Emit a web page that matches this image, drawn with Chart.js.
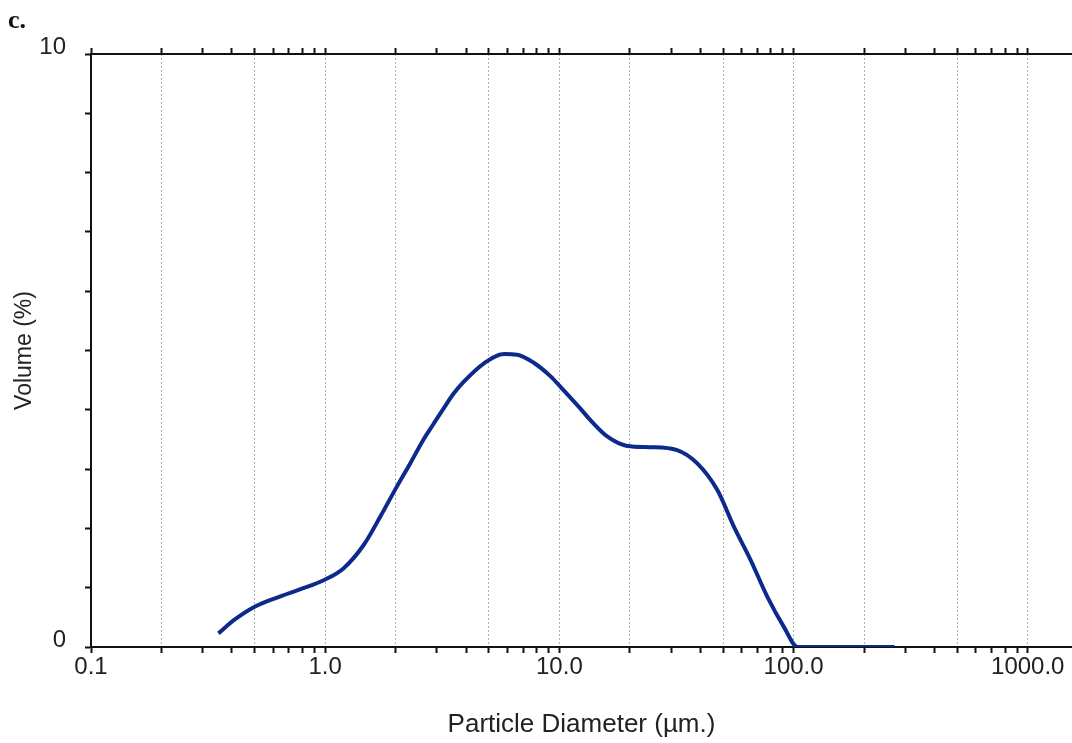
<!DOCTYPE html>
<html>
<head>
<meta charset="utf-8">
<script src="https://cdn.jsdelivr.net/npm/chart.js@4"></script>
<style>
  body { margin: 0; background: #fff; }
  #wrap { position: relative; width: 1072px; height: 743px; overflow: hidden; }
  #tag { position: absolute; left: 8px; top: 5px; font: bold 26px "Liberation Serif", serif; color: #111; }
</style>
</head>
<body>
<div id="wrap">
  <div id="tag">c.</div>
  <canvas id="psd" width="1072" height="743"></canvas>
</div>
<script>
// particle diameter (µm) and volume (%)
const diameters = [0.35, 0.41, 0.5, 0.64, 0.78, 0.99, 1.2, 1.46, 1.72, 2.02, 2.31, 2.63, 2.9, 3.2, 3.53, 3.9, 4.75,
  5.8, 6.6, 7.8, 9.2, 10.1, 12.3, 13.6, 16.0, 19.5, 24.5, 31.8, 38.7, 47.2, 55.6, 65.5, 77.2, 90.9, 104, 150, 270];
const volumes = [0.23, 0.46, 0.68, 0.85, 0.97, 1.13, 1.33, 1.72, 2.2, 2.7, 3.1, 3.5, 3.76, 4.02, 4.27, 4.47, 4.78,
  4.94, 4.93, 4.79, 4.56, 4.39, 4.02, 3.82, 3.55, 3.39, 3.37, 3.32, 3.10, 2.65, 2.03, 1.47, 0.85, 0.34, 0, 0, 0];
const yLabels = [0, 10];
const xMin = 0.1, xMax = 1545;

const tickFont = { family: 'Liberation Sans, Arial, sans-serif', size: 24 };

function isDecade(v) {
  const l = Math.log10(v);
  return Math.abs(l - Math.round(l)) < 1e-9;
}
function mantissa(v) {
  return Math.round(v / Math.pow(10, Math.floor(Math.log10(v) + 1e-9)));
}
function logTicks(scale) {
  const t = [];
  for (let e = -1; e <= 3; e++) {
    for (let m = 1; m <= 9; m++) {
      const v = +(m * Math.pow(10, e)).toPrecision(6);
      if (v >= xMin && v <= xMax) t.push({ value: v });
    }
  }
  scale.ticks = t;
}

new Chart(document.getElementById('psd'), {
  type: 'line',
  data: {
    datasets: [{
      data: diameters.map((d, i) => ({ x: d, y: volumes[i] })),
      borderColor: '#0b2a8c',
      borderWidth: 4,
      pointRadius: 0,
      cubicInterpolationMode: 'monotone',
      fill: false
    }]
  },
  options: {
    responsive: false,
    animation: false,
    layout: { padding: 0 },
    plugins: { legend: { display: false }, tooltip: { enabled: false } },
    scales: {
      x: {
        type: 'logarithmic',
        position: 'bottom',
        min: xMin,
        max: xMax,
        afterBuildTicks: logTicks,
        afterFit: s => { s.height = 96; },
        ticks: {
          autoSkip: false,
          maxRotation: 0,
          color: '#222',
          font: tickFont,
          padding: 0,
          callback: v => isDecade(v) ? v.toFixed(1) : ''
        },
        grid: {
          color: c => {
            const v = c.tick && c.tick.value;
            if (!v || v === xMin) return 'rgba(0,0,0,0)';
            const m = mantissa(v);
            return (m === 1 || m === 2 || m === 5) ? '#b0b0b0' : 'rgba(0,0,0,0)';
          },
          lineWidth: 1,
          tickColor: '#111',
          tickBorderDash: [],
          tickLength: 6,
          tickWidth: 2
        },
        border: { color: '#111', width: 2, dash: [2, 2] },
        title: {
          display: true, text: 'Particle Diameter (µm.)', color: '#222',
          font: { family: 'Liberation Sans, Arial, sans-serif', size: 26 },
          padding: { top: 0, bottom: 3 }
        }
      },
      xTop: {
        type: 'logarithmic',
        position: 'top',
        min: xMin,
        max: xMax,
        afterBuildTicks: logTicks,
        afterFit: s => { s.height = 54; },
        ticks: { display: false },
        grid: { drawOnChartArea: false, tickColor: '#111', tickLength: 6, tickWidth: 2 },
        border: { color: '#111', width: 2 }
      },
      y: {
        min: 0,
        max: 10,
        afterFit: s => { s.width = 91; },
        ticks: {
          stepSize: 1,
          color: '#222',
          font: { family: 'Liberation Sans, Arial, sans-serif', size: 24, lineHeight: 0.55 },
          padding: 19,
          // second empty line lifts the label a little, as in the original
          callback: v => yLabels.includes(v) ? [String(v), ''] : ''
        },
        grid: { drawOnChartArea: false, tickColor: '#111', tickLength: 6, tickWidth: 2 },
        border: { color: '#111', width: 2 },
        title: {
          display: true, text: 'Volume (%)', color: '#222',
          font: { family: 'Liberation Sans, Arial, sans-serif', size: 23 },
          padding: { top: 11, bottom: 0 }
        }
      }
    }
  }
});
</script>
</body>
</html>
